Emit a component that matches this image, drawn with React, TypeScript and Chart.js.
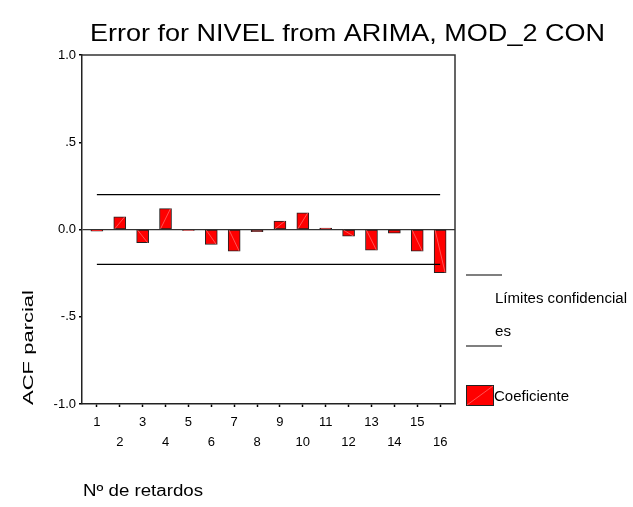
import React, { useEffect, useRef } from 'react';
import { Chart, registerables } from 'chart.js';
Chart.register(...registerables);

const chartTitle = 'Error for NIVEL from ARIMA, MOD_2 CON';
const yAxisTitle = 'ACF parcial';
const xAxisTitle = 'Nº de retardos';
const legendLimitsLine1 = 'Límites confidencial';
const legendLimitsLine2 = 'es';
const legendCoef = 'Coeficiente';

const lags = [1, 2, 3, 4, 5, 6, 7, 8, 9, 10, 11, 12, 13, 14, 15, 16];
const pacf = [-0.01, 0.073, -0.076, 0.12, -0.005, -0.086, -0.124, -0.013, 0.048, 0.096, 0.008, -0.038, -0.119, -0.021, -0.124, -0.248];
const upperLimit = [0.2, 0.2, 0.2, 0.2, 0.2, 0.2, 0.2, 0.2, 0.2, 0.2, 0.2, 0.2, 0.2, 0.2, 0.2, 0.2];
const lowerLimit = [-0.2, -0.2, -0.2, -0.2, -0.2, -0.2, -0.2, -0.2, -0.2, -0.2, -0.2, -0.2, -0.2, -0.2, -0.2, -0.2];
const yTickValues = [-1, -0.5, 0, 0.5, 1];
const yTickLabels = ['-1.0', '-.5', '0.0', '.5', '1.0'];

const FONT = '"Liberation Sans", Arial, sans-serif';

// draw text left-aligned at (x, y), horizontally scaled to a target width
function fitText(ctx: any, text: string, x: number, y: number, size: number, width: number) {
  ctx.save();
  ctx.font = `${size}px ${FONT}`;
  ctx.textAlign = 'left';
  ctx.textBaseline = 'middle';
  const w = ctx.measureText(text).width;
  ctx.translate(x, y);
  ctx.scale(width / w, 1);
  ctx.fillText(text, 0, 0);
  ctx.restore();
}

const hatchPlugin = {
  id: 'hatch',
  afterDatasetDraw(chart: any, args: any) {
    if (args.meta.type !== 'bar') return;
    const ctx = chart.ctx;
    ctx.save();
    ctx.strokeStyle = 'rgba(255,130,130,0.8)';
    ctx.lineWidth = 0.8;
    args.meta.data.forEach((el: any) => {
      const p = el.getProps(['x', 'y', 'base', 'width'], true);
      if (Math.abs(p.y - p.base) < 4) return;
      ctx.beginPath();
      ctx.moveTo(p.x - p.width / 2 + 1, p.base);
      ctx.lineTo(p.x + p.width / 2 - 1, p.y);
      ctx.stroke();
    });
    ctx.restore();
  },
};

const decorPlugin = {
  id: 'decor',
  afterDraw(chart: any) {
    const ctx = chart.ctx;
    const a = chart.chartArea;
    ctx.save();
    ctx.strokeStyle = '#333';
    ctx.lineWidth = 1.5;
    ctx.beginPath();
    ctx.moveTo(a.left, a.top);
    ctx.lineTo(a.right, a.top);
    ctx.lineTo(a.right, a.bottom);
    ctx.stroke();

    ctx.fillStyle = '#000';
    fitText(ctx, chartTitle, 90, 34, 24, 515);

    // y title (rotated)
    ctx.save();
    ctx.translate(29, 405);
    ctx.rotate(-Math.PI / 2);
    fitText(ctx, yAxisTitle, 0, 0, 15, 115);
    ctx.restore();

    fitText(ctx, xAxisTitle, 83, 492, 16, 120);

    // legend
    ctx.strokeStyle = '#000';
    ctx.lineWidth = 1.2;
    ctx.beginPath();
    ctx.moveTo(466, 275);
    ctx.lineTo(502, 275);
    ctx.moveTo(466, 346);
    ctx.lineTo(502, 346);
    ctx.stroke();
    fitText(ctx, legendLimitsLine1, 495, 299, 14, 132);
    fitText(ctx, legendLimitsLine2, 495, 332, 14, 16);

    ctx.fillStyle = '#ff0000';
    ctx.fillRect(466, 385, 27, 20);
    ctx.strokeStyle = '#222';
    ctx.lineWidth = 1;
    ctx.strokeRect(466.5, 385.5, 27, 20);
    ctx.strokeStyle = 'rgba(255,130,130,0.8)';
    ctx.lineWidth = 0.8;
    ctx.beginPath();
    ctx.moveTo(467, 405);
    ctx.lineTo(493, 386);
    ctx.stroke();
    ctx.fillStyle = '#000';
    fitText(ctx, legendCoef, 494, 397, 14, 75);
    ctx.restore();
  },
};

export default function App() {
  const ref = useRef<HTMLCanvasElement | null>(null);
  useEffect(() => {
    if (!ref.current) return;
    const chart = new Chart(ref.current, {
      type: 'bar',
      data: {
        datasets: [
          {
            type: 'line',
            data: lags.map((l, i) => ({ x: l, y: upperLimit[i] })),
            borderColor: '#000',
            borderWidth: 1.3,
            pointRadius: 0,
            order: 0,
          } as any,
          {
            type: 'line',
            data: lags.map((l, i) => ({ x: l, y: lowerLimit[i] })),
            borderColor: '#000',
            borderWidth: 1.3,
            pointRadius: 0,
            order: 0,
          } as any,
          {
            type: 'bar',
            data: lags.map((l, i) => ({ x: l, y: pacf[i] })),
            backgroundColor: '#ff0000',
            borderColor: '#222',
            borderWidth: 1,
            borderSkipped: false,
            barThickness: 12,
            order: 1,
          } as any,
        ],
      },
      plugins: [hatchPlugin, decorPlugin],
      options: {
        responsive: false,
        animation: false,
        layout: { padding: { top: 55, right: 178, left: 0, bottom: 0 } },
        plugins: { legend: { display: false }, title: { display: false }, tooltip: { enabled: false } },
        scales: {
          x: {
            type: 'linear',
            offset: false,
            min: 0.35,
            max: 16.65,
            afterFit: (s: any) => { s.height = 103; },
            afterBuildTicks: (s: any) => { s.ticks = lags.map((v) => ({ value: v })); },
            grid: { display: true, offset: false, drawOnChartArea: false, drawTicks: true, tickLength: 3, tickColor: '#000', tickWidth: 1.5 },
            border: { display: true, color: '#222', width: 1.5 },
            ticks: {
              autoSkip: false,
              maxRotation: 0,
              padding: 5,
              color: '#000',
              font: { family: FONT, size: 13, lineHeight: 1.54 },
              callback: (v: any) => (Number(v) % 2 === 1 ? [String(v), ''] : ['', String(v)]),
            },
          },
          y: {
            type: 'linear',
            min: -1,
            max: 1,
            afterFit: (s: any) => { s.width = 82; },
            afterBuildTicks: (s: any) => { s.ticks = yTickValues.map((v) => ({ value: v })); },
            grid: {
              display: true,
              drawOnChartArea: true,
              drawTicks: true,
              tickLength: 3,
              tickWidth: 1.5,
              tickColor: '#000',
              color: (c: any) => (c.tick && c.tick.value === 0 ? '#333' : 'transparent'),
              lineWidth: 1.3,
            },
            border: { display: true, color: '#222', width: 1.5 },
            ticks: {
              padding: 3,
              color: '#000',
              font: { family: FONT, size: 13 },
              callback: (v: any) => {
                const i = yTickValues.indexOf(Number(v));
                return i >= 0 ? yTickLabels[i] : '';
              },
            },
          },
        },
      },
    });
    return () => chart.destroy();
  }, []);
  return (
    <div style={{ position: 'fixed', left: 0, top: 0, width: 633, height: 507, background: '#fff' }}>
      <canvas ref={ref} width={633} height={507} />
    </div>
  );
}
